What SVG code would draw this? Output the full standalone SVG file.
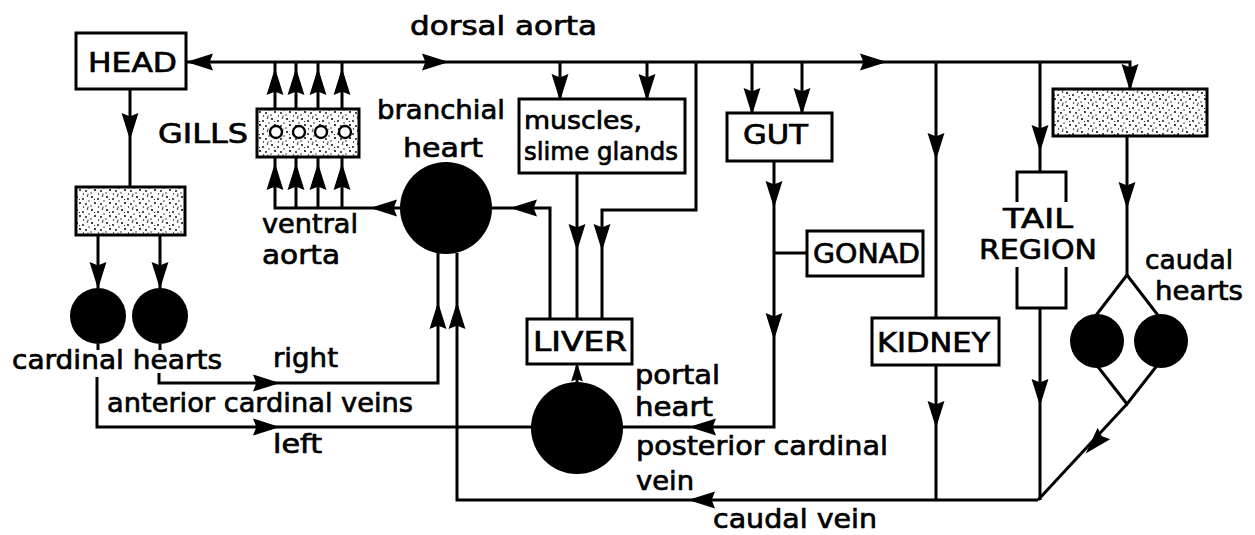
<svg xmlns="http://www.w3.org/2000/svg" width="1255" height="535" viewBox="0 0 1255 535">
<defs>
<pattern id="dots" width="15" height="13" patternUnits="userSpaceOnUse">
<circle cx="2" cy="2" r="1"/><circle cx="8" cy="4" r="0.9"/><circle cx="12.5" cy="1" r="0.8"/><circle cx="5" cy="8" r="1"/><circle cx="11" cy="9" r="0.9"/><circle cx="1" cy="11" r="0.7"/><circle cx="8.5" cy="12" r="0.7"/><circle cx="4.5" cy="4.5" r="0.6"/><circle cx="14" cy="6" r="0.7"/><circle cx="13" cy="12.2" r="0.6"/>
</pattern>
<path id="ah" d="M0,0 L-24,-7.5 L-21,0 L-24,7.5 Z" fill="#000" stroke="#000" stroke-width="1.2" stroke-linejoin="miter"/>
</defs>
<style>
.ln{fill:none;stroke:#000;stroke-width:3;stroke-linejoin:miter}
.bx{fill:#fff;stroke:#000;stroke-width:3}
.st{fill:url(#dots);stroke:#000;stroke-width:3}
.gc{fill:#fff;stroke:#000;stroke-width:2.4}
.ht{fill:#000}
text{font-family:"DejaVu Sans","Liberation Sans",sans-serif;font-size:27px;fill:#000;stroke:#000;stroke-width:0.7}
.sm{font-size:25px}
</style>
<rect width="1255" height="535" fill="#fff"/>

<g id="connectors">
<path class="ln" d="M187,62 H1130 V89"/>
<path class="ln" d="M275,109 V62 M296,109 V62 M318,109 V62 M342,109 V62"/>
<path class="ln" d="M275,157 V208 M296,157 V208 M318,157 V208 M342,157 V208 M273.5,208 H400"/>
<path class="ln" d="M130,89 V187"/>
<path class="ln" d="M98,235 V288 M160,235 V288"/>
<path class="ln" d="M98,344 V350 M160,344 V350"/>
<path class="ln" d="M159,373 V383 H438 V253"/>
<path class="ln" d="M97,377 V427 H532"/>
<path class="ln" d="M1038,500 H457 V253"/>
<path class="ln" d="M550,319 V208 H492"/>
<path class="ln" d="M577,173 V319"/>
<path class="ln" d="M696,62 V210 H602 V319"/>
<path class="ln" d="M560,62 V99 M647,62 V99"/>
<path class="ln" d="M752,62 V113 M802,62 V113"/>
<path class="ln" d="M774,161 V427 H623"/>
<path class="ln" d="M774,253 H807"/>
<path class="ln" d="M936,62 V318 M936,365 V500"/>
<path class="ln" d="M1040,62 V172 M1040,308 V500"/>
<path class="ln" d="M1127,136 V275"/>
<path class="ln" d="M1127,275 L1077,340 L1127,404 L1177,340 Z"/>
<path class="ln" d="M1127,404 L1038,500"/>
<path class="ln" d="M577,382 V366"/>

<use href="#ah" transform="translate(188,62) rotate(180)"/>
<use href="#ah" transform="translate(447,62)"/>
<use href="#ah" transform="translate(885,62)"/>
<use href="#ah" transform="translate(1130,89) rotate(90)"/>
<use href="#ah" transform="translate(275,70) rotate(-90)"/>
<use href="#ah" transform="translate(296,70) rotate(-90)"/>
<use href="#ah" transform="translate(318,70) rotate(-90)"/>
<use href="#ah" transform="translate(342,70) rotate(-90)"/>
<use href="#ah" transform="translate(275,165) rotate(-90)"/>
<use href="#ah" transform="translate(296,165) rotate(-90)"/>
<use href="#ah" transform="translate(318,165) rotate(-90)"/>
<use href="#ah" transform="translate(342,165) rotate(-90)"/>
<use href="#ah" transform="translate(372,208) rotate(180)"/>
<use href="#ah" transform="translate(130,138) rotate(90)"/>
<use href="#ah" transform="translate(98,287) rotate(90)"/>
<use href="#ah" transform="translate(160,287) rotate(90)"/>
<use href="#ah" transform="translate(278,383)"/>
<use href="#ah" transform="translate(438,304) rotate(-90)"/>
<use href="#ah" transform="translate(278,427)"/>
<use href="#ah" transform="translate(690,500) rotate(180)"/>
<use href="#ah" transform="translate(457,304) rotate(-90)"/>
<use href="#ah" transform="translate(512,208) rotate(180)"/>
<use href="#ah" transform="translate(577,249) rotate(90)"/>
<use href="#ah" transform="translate(602,249) rotate(90)"/>
<use href="#ah" transform="translate(560,99) rotate(90)"/>
<use href="#ah" transform="translate(647,99) rotate(90)"/>
<use href="#ah" transform="translate(752,113) rotate(90)"/>
<use href="#ah" transform="translate(802,113) rotate(90)"/>
<use href="#ah" transform="translate(774,206) rotate(90)"/>
<use href="#ah" transform="translate(774,338) rotate(90)"/>
<use href="#ah" transform="translate(691,427) rotate(180)"/>
<use href="#ah" transform="translate(936,158) rotate(90)"/>
<use href="#ah" transform="translate(936,426) rotate(90)"/>
<use href="#ah" transform="translate(1040,150) rotate(90)"/>
<use href="#ah" transform="translate(1040,404) rotate(90)"/>
<use href="#ah" transform="translate(1127,207) rotate(90)"/>
<use href="#ah" transform="translate(1087,452) rotate(132.5)"/>
<use href="#ah" transform="translate(577,364) rotate(-90) scale(0.7)"/>
</g>

<text x="410" y="35" textLength="187" lengthAdjust="spacingAndGlyphs">dorsal aorta</text>

<g id="head">
<rect class="bx" x="76" y="33" width="110" height="56"/>
<text x="88" y="72" textLength="89" lengthAdjust="spacingAndGlyphs">HEAD</text>
</g>

<g id="gills">
<text x="158" y="143" textLength="90" lengthAdjust="spacingAndGlyphs">GILLS</text>
<rect class="st" x="257" y="109" width="102" height="48"/>
<circle class="gc" cx="276" cy="132" r="6"/>
<circle class="gc" cx="299" cy="132" r="6"/>
<circle class="gc" cx="321" cy="132" r="6"/>
<circle class="gc" cx="345" cy="132" r="6"/>
</g>

<g id="ventral-aorta-label">
<text x="262" y="233" textLength="96" lengthAdjust="spacingAndGlyphs">ventral</text>
<text x="262" y="264" textLength="78" lengthAdjust="spacingAndGlyphs">aorta</text>
</g>

<g id="head-capillaries">
<rect class="st" x="76" y="187" width="109" height="48"/>
</g>

<g id="cardinal-hearts">
<circle class="ht" cx="98" cy="316" r="28"/>
<circle class="ht" cx="160" cy="316" r="28"/>
<text x="12" y="369" textLength="210" lengthAdjust="spacingAndGlyphs">cardinal hearts</text>
<text x="273" y="367" textLength="65" lengthAdjust="spacingAndGlyphs">right</text>
<text x="107" y="412" textLength="306" lengthAdjust="spacingAndGlyphs">anterior cardinal veins</text>
<text x="273" y="453" textLength="49" lengthAdjust="spacingAndGlyphs">left</text>
</g>

<g id="branchial-heart">
<circle class="ht" cx="446" cy="208" r="46"/>
<text x="377" y="119" textLength="128" lengthAdjust="spacingAndGlyphs">branchial</text>
<text x="403" y="157" textLength="80" lengthAdjust="spacingAndGlyphs">heart</text>
</g>

<g id="muscles">
<rect class="bx" x="519" y="99" width="166" height="74"/>
<text class="sm" x="524" y="129" textLength="118" lengthAdjust="spacingAndGlyphs">muscles,</text>
<text class="sm" x="524" y="160" textLength="154" lengthAdjust="spacingAndGlyphs">slime glands</text>
</g>

<g id="liver">
<rect class="bx" x="527" y="319" width="105" height="45"/>
<text x="533" y="351" textLength="94" lengthAdjust="spacingAndGlyphs">LIVER</text>
</g>

<g id="portal-heart">
<circle class="ht" cx="577" cy="428" r="46"/>
<text x="635" y="384" textLength="85" lengthAdjust="spacingAndGlyphs">portal</text>
<text x="635" y="416" textLength="78" lengthAdjust="spacingAndGlyphs">heart</text>
</g>

<g id="posterior-cardinal-label">
<text x="636" y="455" textLength="252" lengthAdjust="spacingAndGlyphs">posterior cardinal</text>
<text x="636" y="490" textLength="58" lengthAdjust="spacingAndGlyphs">vein</text>
</g>

<g id="caudal-vein-label">
<text x="713" y="528" textLength="164" lengthAdjust="spacingAndGlyphs">caudal vein</text>
</g>

<g id="gut">
<rect class="bx" x="727" y="113" width="105" height="48"/>
<text x="743" y="144" textLength="65" lengthAdjust="spacingAndGlyphs">GUT</text>
</g>

<g id="gonad">
<rect class="bx" x="807" y="231" width="116" height="45"/>
<text x="813" y="263" textLength="107" lengthAdjust="spacingAndGlyphs">GONAD</text>
</g>

<g id="kidney">
<rect class="bx" x="872" y="318" width="127" height="47"/>
<text x="877" y="352" textLength="113" lengthAdjust="spacingAndGlyphs">KIDNEY</text>
</g>

<g id="tail-region">
<path class="ln" d="M1017,202 V172 H1066 V202 M1017,267 V308 H1066 V267"/>
<text x="1003" y="228" textLength="70" lengthAdjust="spacingAndGlyphs">TAIL</text>
<text x="979" y="259" textLength="118" lengthAdjust="spacingAndGlyphs">REGION</text>
</g>

<g id="tail-capillaries">
<rect class="st" x="1053" y="89" width="154" height="47"/>
</g>

<g id="caudal-hearts">
<circle class="ht" cx="1097" cy="341" r="27"/>
<circle class="ht" cx="1161" cy="341" r="27"/>
<text x="1145" y="269" textLength="88" lengthAdjust="spacingAndGlyphs">caudal</text>
<text x="1155" y="300" textLength="88" lengthAdjust="spacingAndGlyphs">hearts</text>
</g>
</svg>
